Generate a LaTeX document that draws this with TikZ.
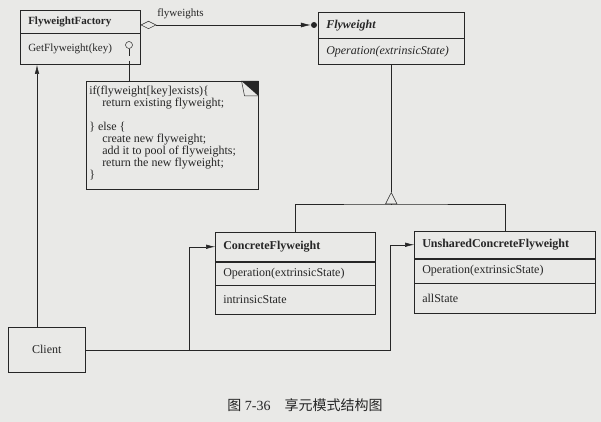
\documentclass[tikz,border=0pt]{standalone}
\usepackage{fontspec}
\setmainfont{Liberation Serif}
\newfontfamily\cjk{Noto Sans CJK SC}
\usetikzlibrary{arrows.meta}
\definecolor{paper}{RGB}{233,233,231}
\definecolor{ink}{RGB}{38,38,38}

\begin{document}
\begin{tikzpicture}[x=1pt,y=-1pt,line width=0.5pt,
    box/.style={draw=ink, text=ink, rectangle, anchor=north west, inner xsep=8pt, inner ysep=0pt, align=left, font=\fontsize{12}{14}\selectfont},
    arr/.style={draw=ink, -{Latex[length=9pt,width=4.5pt]}}]
    % background
    \fill[paper] (0,0) rectangle (601,422);

    % draw factory class
    \node[box, minimum height=23pt, text width=104pt, font=\fontsize{11}{13}\selectfont\bfseries] (fftitle) at (20,10) {FlyweightFactory};
    \node[box, minimum height=31pt, text width=104pt, font=\fontsize{11}{13}\selectfont] (ffops) at (fftitle.south west) {GetFlyweight(key)};

    % draw flyweight class
    \node[box, minimum height=26pt, text width=130pt, font=\fontsize{12}{14}\selectfont\bfseries\itshape] (fwtitle) at (318,12) {Flyweight};
    \node[box, minimum height=26pt, text width=130pt, font=\fontsize{12}{14}\selectfont\itshape] (fwops) at (fwtitle.south west) {Operation(extrinsicState)};

    % draw concrete classes
    \node[box, minimum height=29pt, text width=144pt, font=\fontsize{12}{14}\selectfont\bfseries] (cftitle) at (215,232) {ConcreteFlyweight};
    \node[box, minimum height=23pt, text width=144pt] (cfops) at (cftitle.south west) {Operation(extrinsicState)};
    \node[box, minimum height=29pt, text width=144pt] (cfattr) at (cfops.south west) {intrinsicState};

    \node[box, minimum height=27pt, text width=165pt, font=\fontsize{12}{14}\selectfont\bfseries] (ucftitle) at (414,231) {UnsharedConcreteFlyweight};
    \node[box, minimum height=24pt, text width=165pt] (ucfops) at (ucftitle.south west) {Operation(extrinsicState)};
    \node[box, minimum height=30pt, text width=165pt] (ucfattr) at (ucfops.south west) {allState};

    % draw client
    \node[draw=ink, text=ink, anchor=north west, minimum width=77pt, minimum height=45pt, font=\fontsize{12}{14}\selectfont] (client) at (8,327) {Client};

    % draw note
    \node[draw=ink, anchor=north west, minimum width=172pt, minimum height=108pt, inner sep=0pt] (note) at (86,81) {};
    \fill[ink] ([xshift=-17pt]note.north east) -- (note.north east) -- ([yshift=-15pt]note.north east) -- cycle;
    \draw[ink] ([xshift=-17pt]note.north east) -- ([xshift=-14pt,yshift=-15pt]note.north east) -- ([yshift=-15pt]note.north east);
    \node[anchor=north west, align=left, inner sep=0pt, text=ink, font=\fontsize{12}{12}\selectfont] (code) at ([xshift=3pt,yshift=-5pt]note.north west)
      {if(flyweight[key]exists)\{\\
       \hspace*{13pt}return existing flyweight;\\[12pt]
       \} else \{\\
       \hspace*{13pt}create new flyweight;\\
       \hspace*{13pt}add it to pool of flyweights;\\
       \hspace*{13pt}return the new flyweight;\\
       \}};

    % lollipop and note link
    \node[draw=ink, circle, inner sep=0pt, minimum size=7pt] (lolli) at (129,45) {};
    \draw[ink, dash pattern=on 7pt off 5pt on 40pt] (lolli.south) -- (lolli.south |- note.north);

    % aggregation
    \node[circle, fill=ink, inner sep=0pt, minimum size=6pt] (fwdot) at (314,25) {};
    \draw[draw=ink, {Diamond[open,length=16pt,width=8pt]}-{Latex[length=10pt,width=5pt]}] (fwdot -| fftitle.east) -- (fwdot.west);
    \node[anchor=south west, inner sep=0pt, text=ink, font=\fontsize{11}{13}\selectfont] (flylbl) at (157,19) {flyweights};

    % inheritance
    \coordinate (inh) at (fwops.south |- 0,204);
    \draw[draw=ink, -{Triangle[open,length=12pt,width=12pt]}] (inh) -- ++(0,-12) coordinate (tip);
    \draw[ink] (tip) -- (fwops.south);
    \draw[ink] (cftitle.north) |- (inh) -| (ucftitle.north);

    % client links
    \draw[arr] ([xshift=29pt]client.north west) -- ([xshift=29pt]client.north west |- ffops.south);
    \draw[arr] (client.east) -| ([xshift=-26pt]cftitle.west) -- (cftitle.west);
    \draw[arr] (client.east) -| ([xshift=-24pt]ucftitle.west) -- (ucftitle.west);

    % caption
    \node[text=ink, font=\fontsize{14}{16}\selectfont] (caption) at (305,405) {{\cjk 图} 7-36\quad{\cjk 享元模式结构图}};
\end{tikzpicture}
\end{document}
